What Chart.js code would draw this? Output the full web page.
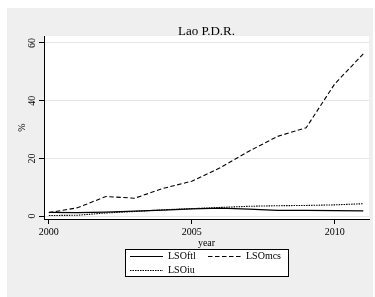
<!DOCTYPE html>
<html lang="en">

<head>
    <meta charset="UTF-8" />
    <title>Lao P.D.R.</title>
    <script src="https://cdn.jsdelivr.net/npm/chart.js"></script>
    <style>
        body { margin: 0; background: #fff; }
        #grafico { display: block; }
    </style>
</head>

<body>
    <canvas id="grafico" width="375" height="297"></canvas>
</body>

</html>

<script>
    // dados
    const titulo = 'Lao P.D.R.';
    const anos = [2000, 2001, 2002, 2003, 2004, 2005, 2006, 2007, 2008, 2009, 2010, 2011];
    const lsoFtl = [1.3, 1.2, 1.4, 1.7, 2.1, 2.5, 2.8, 2.4, 2.0, 2.0, 1.9, 1.8];
    const lsoMcs = [1.2, 2.9, 6.8, 6.2, 9.6, 12.1, 16.8, 22.5, 27.6, 30.6, 45.8, 56.2];
    const lsoIu = [0.2, 0.3, 1.1, 1.6, 2.2, 2.6, 3.0, 3.4, 3.6, 3.7, 3.9, 4.3];
    const ticksX = [2000, 2005, 2010];
    const ticksY = [0, 20, 40, 60];

    const fonte = 'Liberation Serif';

    function pontos(valores) {
        return anos.map((ano, i) => ({ x: ano, y: valores[i] }));
    }

    // fundo cinza, area branca, titulo e legenda no estilo Stata
    const fundoStata = {
        id: 'fundoStata',
        beforeDraw(chart) {
            const ctx = chart.ctx;
            const area = chart.chartArea;
            ctx.save();
            ctx.fillStyle = '#efefef';
            ctx.fillRect(7, 8, 366, 289);
            ctx.fillStyle = '#ffffff';
            ctx.fillRect(area.left, area.top, area.right - area.left, area.bottom - area.top);
            ctx.restore();
        },
        afterDraw(chart) {
            const ctx = chart.ctx;
            const area = chart.chartArea;
            ctx.save();
            ctx.fillStyle = '#000';
            ctx.font = '13px "' + fonte + '"';
            ctx.textAlign = 'center';
            ctx.textBaseline = 'alphabetic';
            ctx.fillText(titulo, (area.left + area.right) / 2, 35);

            // caixa da legenda
            const bx = 125, by = 249, bw = 164, bh = 28;
            ctx.fillStyle = '#fff';
            ctx.fillRect(bx, by, bw, bh);
            ctx.strokeStyle = '#000';
            ctx.lineWidth = 1;
            ctx.strokeRect(bx + 0.5, by + 0.5, bw - 1, bh - 1);

            const posicoes = [[130, 256.5], [208, 256.5], [130, 270.5]];
            ctx.font = '10px "' + fonte + '"';
            ctx.textAlign = 'left';
            ctx.textBaseline = 'middle';
            chart.data.datasets.forEach((ds, i) => {
                const [lx, ly] = posicoes[i];
                ctx.beginPath();
                ctx.setLineDash(ds.borderDash || []);
                ctx.lineWidth = ds.borderWidth;
                ctx.strokeStyle = ds.borderColor;
                ctx.moveTo(lx, ly);
                ctx.lineTo(lx + 33, ly);
                ctx.stroke();
                ctx.setLineDash([]);
                ctx.fillStyle = '#000';
                ctx.fillText(ds.label, lx + 38, ly);
            });
            ctx.restore();
        }
    };

    const config = {
        type: 'line',
        data: {
            datasets: [
                { label: 'LSOftl', data: pontos(lsoFtl), borderColor: '#000', borderWidth: 1.2, borderDash: [] },
                { label: 'LSOmcs', data: pontos(lsoMcs), borderColor: '#000', borderWidth: 1.1, borderDash: [4.5, 2.5] },
                { label: 'LSOiu', data: pontos(lsoIu), borderColor: '#000', borderWidth: 1.1, borderDash: [1.5, 1] }
            ]
        },
        options: {
            responsive: false,
            animation: false,
            parsing: false,
            elements: { point: { radius: 0 }, line: { tension: 0 } },
            layout: { padding: { left: 7, top: 36, right: 6, bottom: 48 } },
            plugins: {
                legend: { display: false },
                tooltip: { enabled: false }
            },
            scales: {
                x: {
                    type: 'linear',
                    min: 1999.83,
                    max: 2011.2,
                    afterBuildTicks(scale) { scale.ticks = ticksX.map(v => ({ value: v })); },
                    afterFit(scale) { scale.height = 30; },
                    grid: { drawOnChartArea: false, color: '#000', tickLength: 5 },
                    border: { color: '#000', width: 1 },
                    ticks: {
                        color: '#000',
                        padding: 2,
                        maxRotation: 0,
                        font: { family: fonte, size: 10 },
                        callback: v => String(v)
                    },
                    title: {
                        display: true,
                        text: 'year',
                        color: '#000',
                        padding: { top: 0, bottom: 0 },
                        font: { family: fonte, size: 10 }
                    }
                },
                y: {
                    min: -1.0,
                    max: 62.4,
                    afterBuildTicks(scale) { scale.ticks = ticksY.map(v => ({ value: v })); },
                    afterFit(scale) { scale.width = 37; },
                    grid: { color: '#e6e6e6', tickColor: '#000', tickLength: 5 },
                    border: { color: '#000', width: 1 },
                    ticks: {
                        color: '#000',
                        padding: 2,
                        minRotation: 90,
                        maxRotation: 90,
                        crossAlign: 'center',
                        font: { family: fonte, size: 10 }
                    },
                    title: {
                        display: true,
                        text: '%',
                        color: '#000',
                        padding: { top: 9, bottom: 0 },
                        font: { family: fonte, size: 10 }
                    }
                }
            }
        },
        plugins: [fundoStata]
    };

    new Chart(document.getElementById('grafico'), config);
</script>
